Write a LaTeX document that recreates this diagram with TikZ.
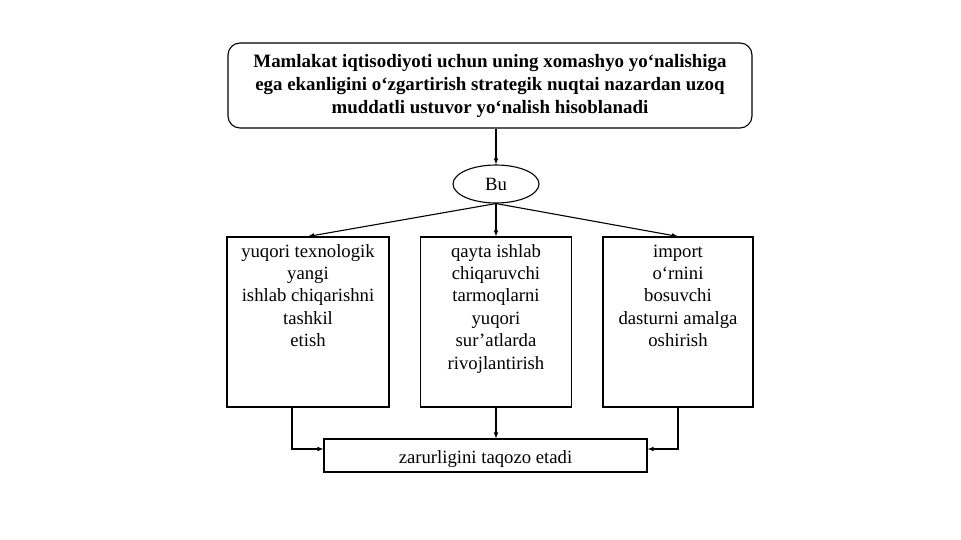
\documentclass[tikz,border=0pt]{standalone}
\usepackage{fontspec}
\setmainfont{Liberation Serif}
\usetikzlibrary{shapes.geometric, arrows}
\tikzstyle{headbox} = [rectangle, rounded corners=12pt, minimum width=524pt, minimum height=85pt, text width=514pt, align=flush center, draw=black, line width=1.1pt, font=\bfseries\fontsize{18.9}{23}\selectfont]
\tikzstyle{oval} = [ellipse, minimum width=86pt, minimum height=38pt, inner sep=0pt, draw=black, line width=1.1pt, font=\fontsize{18.7}{22.4}\selectfont]
\tikzstyle{process} = [rectangle, inner sep=4pt, text height=16pt, text depth=146pt, align=flush center, draw=black, line width=1.1pt, font=\fontsize{18.7}{22.4}\selectfont]
\tikzstyle{result} = [rectangle, minimum width=323pt, minimum height=33pt, text centered, draw=black, line width=1.1pt, font=\fontsize{18.7}{22.4}\selectfont]
\tikzstyle{arrow} = [line width=1.1pt,->,>=latex]

\begin{document}
\begin{tikzpicture}[x=1pt, y=1pt, node distance=96pt]
\useasboundingbox (0,0) rectangle (961,-540);

\node (goal) [headbox] at (490,-85.5) {Mamlakat iqtisodiyoti uchun uning xomashyo yo‘nalishiga\\ ega ekanligini o‘zgartirish strategik nuqtai nazardan uzoq\\ muddatli ustuvor yo‘nalish hisoblanadi};
\node (bu) [oval, below of=goal, xshift=6pt, node distance=98.5pt] {Bu};
\node (mid) [process, text width=143pt, below of=bu, node distance=138pt] {qayta ishlab\\ chiqaruvchi\\ tarmoqlarni\\ yuqori\\ sur’atlarda\\ rivojlantirish};
\node (left) [process, text width=154pt, left of=mid, node distance=188pt] {yuqori texnologik\\ yangi\\ ishlab chiqarishni\\ tashkil\\ etish};
\node (right) [process, text width=142pt, right of=mid, node distance=182pt] {import\\ o‘rnini\\ bosuvchi\\ dasturni amalga\\ oshirish};
\node (end) [result, below of=mid, node distance=133.5pt, xshift=-10.5pt, text height=15pt, text depth=0pt] {zarurligini taqozo etadi};

\draw [arrow] (goal.south -| bu.north) -- (bu);
\draw [arrow] (bu.south) -- (left.north);
\draw [arrow] (bu.south) -- (mid);
\draw [arrow] (bu.south) -- (right.north);
\draw [arrow] ([xshift=-16pt]left.south) |- ([yshift=6.5pt]end.west);
\draw [arrow] (mid.south) -- (mid.south |- end.north);
\draw [arrow] (right.south) |- ([yshift=6.5pt]end.east);

\end{tikzpicture}
\end{document}
